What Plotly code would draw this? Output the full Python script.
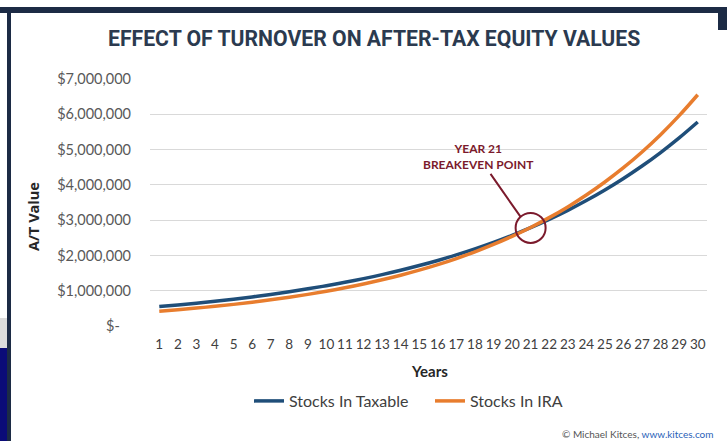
import plotly.graph_objects as go

# ---- data ----
years = list(range(1, 31))
year_labels = [str(y) for y in years]
stocks_taxable = [0.55e6, 0.596e6, 0.647e6, 0.702e6, 0.761e6, 0.825e6, 0.895e6, 0.971e6,
                  1.053e6, 1.142e6, 1.238e6, 1.343e6, 1.456e6, 1.579e6, 1.713e6, 1.857e6,
                  2.014e6, 2.185e6, 2.369e6, 2.569e6, 2.786e6, 3.022e6, 3.277e6, 3.554e6,
                  3.854e6, 4.180e6, 4.533e6, 4.916e6, 5.332e6, 5.782e6]
stocks_ira = [0.42e6, 0.462e6, 0.508e6, 0.558e6, 0.613e6, 0.674e6, 0.741e6, 0.815e6,
              0.896e6, 0.985e6, 1.083e6, 1.191e6, 1.309e6, 1.439e6, 1.582e6, 1.739e6,
              1.912e6, 2.102e6, 2.311e6, 2.541e6, 2.793e6, 3.071e6, 3.376e6, 3.712e6,
              4.081e6, 4.486e6, 4.932e6, 5.422e6, 5.961e6, 6.554e6]
y_tick_vals = [0, 1e6, 2e6, 3e6, 4e6, 5e6, 6e6, 7e6]
y_tick_text = ["$-\u00a0\u00a0\u00a0", "$1,000,000", "$2,000,000", "$3,000,000", "$4,000,000",
               "$5,000,000", "$6,000,000", "$7,000,000"]
breakeven_year = 21
breakeven_value = 2.78e6

W, H = 727, 441
L, R, T, B = 150, 20, 79, 115
PW, PH = W - L - R, H - T - B
px_per_year = PW / 30.0
px_per_unit = PH / 7e6


def px(xp):
    return (xp - L) / PW


def py(yp):
    return (H - B - yp) / PH


BLUE = "#1f4e79"
ORANGE = "#e87d2e"
RED = "#7b1a2c"
NAVY = "#1c2b45"

fig = go.Figure()
fig.add_trace(go.Scatter(x=years, y=stocks_taxable, mode="lines", name="Stocks In Taxable",
                         line=dict(color=BLUE, width=3.5, shape="spline")))
fig.add_trace(go.Scatter(x=years, y=stocks_ira, mode="lines", name="Stocks In IRA",
                         line=dict(color=ORANGE, width=3.5, shape="spline")))

r_years = 15 / px_per_year
r_val = 15 / px_per_unit
shapes = [
    dict(type="circle", xref="x", yref="y",
         x0=breakeven_year - r_years, x1=breakeven_year + r_years,
         y0=breakeven_value - r_val, y1=breakeven_value + r_val,
         line=dict(color=RED, width=2)),
    # frame decorations
    dict(type="rect", xref="paper", yref="paper", x0=px(0), x1=px(W), y0=py(7), y1=py(13),
         fillcolor=NAVY, line_width=0, layer="below"),
    dict(type="rect", xref="paper", yref="paper", x0=px(7), x1=px(11), y0=py(7), y1=py(H),
         fillcolor=NAVY, line_width=0, layer="below"),
    dict(type="rect", xref="paper", yref="paper", x0=px(718), x1=px(W), y0=py(7), y1=py(30),
         fillcolor=NAVY, line_width=0, layer="below"),
    dict(type="rect", xref="paper", yref="paper", x0=px(0), x1=px(7), y0=py(318), y1=py(348),
         fillcolor="#dcdcdc", line_width=0, layer="below"),
    dict(type="rect", xref="paper", yref="paper", x0=px(0), x1=px(7), y0=py(348), y1=py(H),
         fillcolor="#0b0b78", line_width=0, layer="below"),
]

annotations = [
    dict(text="<b>EFFECT OF TURNOVER ON AFTER-TAX EQUITY VALUES</b>", xref="paper", yref="paper",
         x=px(374), y=py(38), xanchor="center", yanchor="middle", showarrow=False,
         font=dict(family="Roboto", size=21.2, color="#2b3a4f")),
    dict(text="<b>A/T Value</b>", xref="paper", yref="paper", x=px(33), y=py(216),
         xanchor="center", yanchor="middle", textangle=-90, showarrow=False,
         font=dict(family="Open Sans", size=14.5, color="#262626")),
    dict(text="<b>Years</b>", xref="paper", yref="paper", x=px(429), y=py(371),
         xanchor="center", yanchor="middle", showarrow=False,
         font=dict(family="Lato", size=15, color="#262626")),
    dict(text="<b>YEAR 21<br>BREAKEVEN POINT</b>", xref="x", yref="y",
         x=breakeven_year - 10 / px_per_year, y=breakeven_value + 11 / px_per_unit,
         ax=-42, ay=-60, axref="pixel", ayref="pixel",
         showarrow=True, arrowhead=0, arrowwidth=2, arrowcolor=RED,
         font=dict(family="Lato", size=12, color=RED), align="center"),
    dict(text="© Michael Kitces, <span style='color:#2a62b8'>www.kitces.com</span>",
         xref="paper", yref="paper", x=px(560), y=py(434), xanchor="left", yanchor="middle",
         showarrow=False, font=dict(family="Lato", size=10, color="#555555")),
]

fig.update_layout(
    width=W, height=H,
    margin=dict(l=L, r=R, t=T, b=B),
    paper_bgcolor="white", plot_bgcolor="white",
    shapes=shapes, annotations=annotations,
    showlegend=True,
    legend=dict(orientation="h", x=px(430), y=py(401), xanchor="center", yanchor="middle",
                font=dict(family="Lato", size=16, color="#404040"),
                entrywidth=136, entrywidthmode="pixels", itemwidth=30),
    xaxis=dict(range=[0.5, 30.5], tickmode="array", tickvals=years, ticktext=year_labels,
               showgrid=False, zeroline=False, showline=False, ticks="",
               tickfont=dict(family="Lato", size=13.5, color="#404040"),
               ticklabelstandoff=8),
    yaxis=dict(range=[0, 7e6], tickmode="array", tickvals=y_tick_vals, ticktext=y_tick_text,
               showgrid=True, gridcolor="#d9d9d9", gridwidth=1, zeroline=False,
               showline=False, ticks="",
               tickfont=dict(family="Lato", size=14.5, color="#595959"),
               ticklabelstandoff=18),
)

fig.write_html("out.html", config={"displayModeBar": False},
               post_script="document.body.style.margin='0';")
